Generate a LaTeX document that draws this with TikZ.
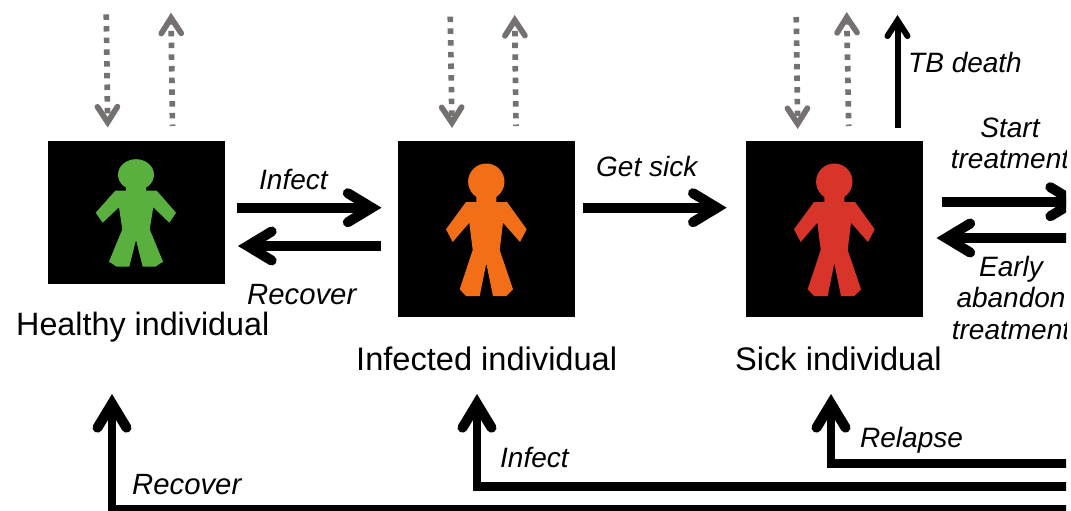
\documentclass[tikz,border=0pt]{standalone}
\usepackage{fontspec}
\setmainfont[Kerning=Off]{Liberation Sans}
\usetikzlibrary{arrows.meta}
\definecolor{grn}{HTML}{5AB03F}
\definecolor{org}{HTML}{F36F17}
\definecolor{rdd}{HTML}{D8342A}
\definecolor{gry}{HTML}{767171}
\tikzset{
  boxnode/.style={fill=black,draw=none,inner sep=0pt,minimum width=176.5pt,anchor=north west},
  bigtip/.style={-{Straight Barb[line cap=round,line join=miter,length=24pt,width=29pt,line width=10pt]}},
  smalltip/.style={-{Straight Barb[line cap=round,line join=miter,length=15.5pt,width=20pt]}},
  fatline/.style={draw=black,line width=10pt,bigtip},
  feedline/.style={draw=black,line width=8.5pt,line join=miter,bigtip},
  deadline/.style={draw=black,line width=6pt,smalltip},
  dotline/.style={draw=gry,line width=5.7pt,dash pattern=on 5.5pt off 6.2pt,smalltip},
  lab/.style={anchor=base west,inner sep=0pt,font=\fontsize{28}{31.5}\selectfont\itshape},
  labwide/.style={anchor=base west,inner sep=0pt,font=\fontsize{29.3}{31.5}\selectfont\itshape},
  title/.style={anchor=base west,inner sep=0pt,font=\fontsize{32.3}{36}\selectfont},
  titlewide/.style={anchor=base west,inner sep=0pt,font=\fontsize{32.6}{36}\selectfont},
  multi/.style={anchor=base,inner sep=0pt,align=center,font=\fontsize{28}{31.5}\selectfont\itshape},
}
\newcommand{\slimfigure}[2]{%
  \begin{scope}[shift={(#1,0)}]
  \fill[#2] (834.3,181.7) circle[radius=18.2pt];
  \fill[#2] (824.3,195)--(824.3,202)--(814,202)--(794,229.3)--(800.7,242)--(817.3,222.7)--(820.7,250)--(807.7,289.3)--(814,296)--(827.7,296)--(834.3,263.3)--(841,296)--(854.3,296)--(861,289.3)--(847.7,250)--(851,222.7)--(868,242)--(874.7,229.3)--(855,202)--(844.3,202)--(844.3,195)--cycle;
  \end{scope}}
\begin{document}
\begin{tikzpicture}[x=1pt,y=-1pt]
\useasboundingbox (0,0) rectangle (1071,511);
\fill[white] (0,0) rectangle (1071,511);
\begin{scope}
\clip (0,0) rectangle (1066,511);
% boxes
\node[boxnode,minimum height=143pt] (healthy) at (48,141) {};
\node[boxnode,minimum height=176pt] (infected) at (398,141) {};
\node[boxnode,minimum height=176pt] (sick) at (746,141) {};
% figures
\fill[grn] (136,174.7) ellipse[x radius=18pt,y radius=15.5pt];
\fill[grn] (126,185)--(126,190.7)--(115.3,190.7)--(95.7,212.7)--(102.7,222.7)--(119,207.3)--(122.3,229.3)--(109,261.7)--(116.7,266.7)--(129.3,266.7)--(136,240)--(142.7,266.7)--(155.3,266.7)--(163,261.7)--(149.7,229.3)--(153.3,207.3)--(169.3,222.7)--(176,212.7)--(156.7,190.7)--(146,190.7)--(146,185)--cycle;
\slimfigure{-348}{org}
\slimfigure{0}{rdd}
% free ends
\coordinate (a1s) at (237,207.7); \coordinate (a1e) at (381.5,207.7);
\coordinate (a2s) at (381,246); \coordinate (a2e) at (238,246);
\coordinate (a3s) at (583,207.7); \coordinate (a3e) at (726.7,207.7);
\coordinate (a4s) at (942,201.7); \coordinate (a4e) at (1084,201.7);
\coordinate (a5s) at (1090,238); \coordinate (a5e) at (936.5,238);
\draw[fatline] (a1s) -- (a1e);
\draw[fatline] (a2s) -- (a2e);
\draw[fatline] (a3s) -- (a3e);
\draw[fatline] (a4s) -- (a4e);
\draw[fatline] (a5s) -- (a5e);
% dotted
\foreach \nm/\da/\db/\dt/\de/\ua/\ub/\ut in {h/106.3/107.7/14.3/127.5/172.5/171/12.7, i/450.3/452/16.7/128/516/514.7/15, s/796.3/797.7/17/129/848.7/846.7/12}{
  \coordinate (d\nm s) at (\da,\dt);
  \coordinate (d\nm e) at (\db,\de);
  \coordinate (u\nm s) at (\ua,126);
  \coordinate (u\nm e) at (\ub,\ut);
  \draw[dotline] (d\nm s) -- (d\nm e);
  \draw[dotline,dash phase=4pt] (u\nm s) -- (u\nm e);
}
\coordinate (deaths) at (897.5,128); \coordinate (deathe) at (897.5,15);
\draw[deadline] (deaths) -- (deathe);
% bottom feedback
\coordinate (r1) at (1070,507.7); \coordinate (r2) at (112,507.7); \coordinate (r4) at (112,510.7); \coordinate (r3) at (112,394);
\coordinate (n1) at (1070,486.5); \coordinate (n2) at (477,486.5); \coordinate (n3) at (477,394);
\coordinate (l1) at (1070,463.5); \coordinate (l2) at (831,463.5); \coordinate (l3) at (831,394);
\draw[draw=black,line width=6pt] (r1) -- (r2);
\draw[feedline] (r4) -- (r3);
\draw[feedline] (n1) -- (n2) -- (n3);
\draw[feedline] (l1) -- (l2) -- (l3);
% labels
\node[title] (t1) at (16,335) {Healthy individual};
\node[titlewide] (t2) at (356,370) {Infected individual};
\node[titlewide] (t3) at (735,370) {Sick individual};
\node[lab] (b1) at (259,189) {Infect};
\node[labwide] (b2) at (247,304) {Recover};
\node[lab] (b3) at (596,176) {Get sick};
\node[lab] (b4) at (908,73) {TB death};
\node[lab] (b5) at (860,447) {Relapse};
\node[lab] (b6) at (500,467) {Infect};
\node[labwide] (b7) at (132,494) {Recover};
\node[multi] (b8) at (1010,168.5) {Start\\treatment};
\node[multi] (b9) at (1011,339) {Early\\abandon\\treatment};
\end{scope}
\end{tikzpicture}
\end{document}
